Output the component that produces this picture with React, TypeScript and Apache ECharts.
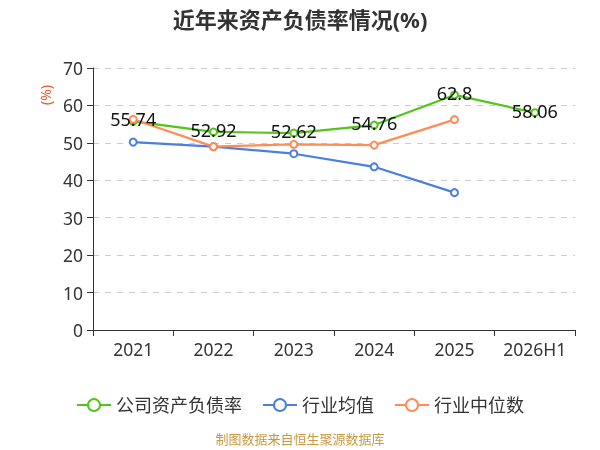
import React, { useEffect, useRef } from "react";
import * as echarts from "echarts";

const categories = ["2021", "2022", "2023", "2024", "2025", "2026H1"];
const companyRatio = [55.74, 52.92, 52.62, 54.76, 62.8, 58.06];
const industryMean = [50.2, 49.0, 47.1, 43.6, 36.7, null];
const industryMedian = [56.3, 49.0, 49.6, 49.4, 56.2, null];

export default function App() {
  const ref = useRef<HTMLDivElement>(null);
  useEffect(() => {
    const chart = echarts.init(ref.current!, null, { renderer: "svg" });
    const font = "'Noto Sans', 'Noto Sans CJK SC', sans-serif";
    chart.setOption({
      animation: false,
      textStyle: { fontFamily: font },
      title: {
        text: "近年来资产负债率情况(%)",
        left: "center",
        top: 3,
        textStyle: { fontSize: 22, fontWeight: "bold", color: "#333", fontFamily: font },
      },
      grid: { left: 93, right: 25, top: 68, bottom: 120 },
      legend: {
        top: 391,
        left: "center",
        itemWidth: 34,
        itemHeight: 15,
        itemGap: 20,
        textStyle: { fontSize: 18, color: "#333", fontFamily: font },
        data: ["公司资产负债率", "行业均值", "行业中位数"],
      },
      graphic: [
        {
          type: "text",
          left: "center",
          top: 432,
          style: { text: "制图数据来自恒生聚源数据库", fill: "#c9993f", fontSize: 13, fontFamily: font },
        },
        {
          type: "text",
          x: 45,
          y: 95,
          rotation: Math.PI / 2,
          style: { text: "(%)", fill: "#e8542a", fontSize: 14, fontFamily: font, align: "center", verticalAlign: "middle" },
        },
      ],
      xAxis: {
        type: "category",
        data: categories,
        boundaryGap: true,
        axisLine: { lineStyle: { color: "#333" } },
        axisTick: { show: true, length: 6, interval: 0, lineStyle: { color: "#333" } },
        axisLabel: { fontSize: 17.5, color: "#333", margin: 10, interval: 0 },
      },
      yAxis: {
        type: "value",
        min: 0,
        max: 70,
        interval: 10,
        axisLine: { show: true, lineStyle: { color: "#333" } },
        axisTick: { show: true, length: 6, lineStyle: { color: "#333" } },
        axisLabel: { fontSize: 17.5, color: "#333", margin: 10 },
        splitLine: { lineStyle: { type: [6, 6], color: "#cccccc", width: 1.2 } },
      },
      series: [
        {
          name: "公司资产负债率",
          type: "line",
          data: companyRatio,
          symbol: "emptyCircle",
          symbolSize: 7,
          z: 3,
          itemStyle: { color: "#52c41a" },
          lineStyle: { width: 2.2, color: "#52c41a" },
          label: { show: true, position: "inside", offset: [0, -2], fontSize: 18, color: "#111" },
        },
        {
          name: "行业均值",
          type: "line",
          data: industryMean,
          symbol: "emptyCircle",
          symbolSize: 7,
          itemStyle: { color: "#4c7ee0" },
          lineStyle: { width: 2.2, color: "#4c7ee0" },
        },
        {
          name: "行业中位数",
          type: "line",
          data: industryMedian,
          symbol: "emptyCircle",
          symbolSize: 7,
          itemStyle: { color: "#ff8c55" },
          lineStyle: { width: 2.2, color: "#ff8c55" },
        },
      ],
    });
    return () => chart.dispose();
  }, []);
  return <div ref={ref} style={{ width: 600, height: 450, position: "fixed", left: 0, top: 0 }} />;
}
